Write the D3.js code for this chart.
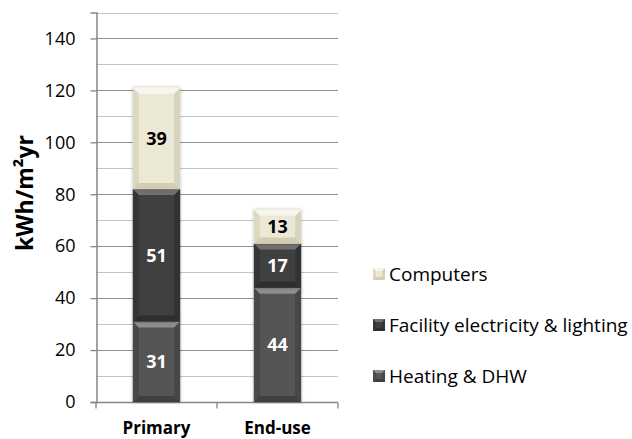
<!DOCTYPE html>
<html>
<head>
<meta charset="utf-8">
<script src="https://cdn.jsdelivr.net/npm/d3@7"></script>
<style>
  html, body { margin: 0; padding: 0; background: #fff; }
  svg { display: block; }
  text { font-family: "Open Sans", "Noto Sans", sans-serif; fill: #000; }
</style>
</head>
<body>
<svg id="chart" width="632" height="439"></svg>
<script>
// Energy use per floor area, stacked by end use
const categories = ["Primary", "End-use"];
const seriesNames = ["Heating & DHW", "Facility electricity & lighting", "Computers"];
const heating = [31, 44];
const facility = [51, 17];
const computers = [39, 13];
const yTicks = [0, 20, 40, 60, 80, 100, 120, 140];
const yGrid = [10, 20, 30, 40, 50, 60, 70, 80, 90, 100, 110, 120, 130, 140, 150];
const legendOrder = ["Computers", "Facility electricity & lighting", "Heating & DHW"];

// bevel palettes: main face, top, bottom, left, right, label colour
const palette = {
  "Heating & DHW": { face: "#545454", top: "#8e8e8e", bottom: "#404040", left: "#4a4a4a", right: "#464646", label: "#ffffff" },
  "Facility electricity & lighting": { face: "#3f3f3f", top: "#707070", bottom: "#2e2e2e", left: "#363636", right: "#333333", label: "#ffffff" },
  "Computers": { face: "#ece8d6", top: "#f7f5ec", bottom: "#d2ccb3", left: "#ddd8c2", right: "#d8d3bc", label: "#000000" }
};

const svg = d3.select("#chart");

const x = d3.scaleBand().domain(categories).range([96, 338]).paddingInner(0.61).paddingOuter(0.305);
const y = d3.scaleLinear().domain([0, 150]).range([402, 12.5]);

// stacked layout
const rows = categories.map((c, i) => ({
  category: c,
  "Heating & DHW": heating[i],
  "Facility electricity & lighting": facility[i],
  "Computers": computers[i]
}));
const stack = d3.stack().keys(seriesNames)(rows);

// gridlines
svg.append("g").selectAll("line").data(yGrid).join("line")
  .attr("x1", 96).attr("x2", 338)
  .attr("y1", d => Math.round(y(d)) + 0.5).attr("y2", d => Math.round(y(d)) + 0.5)
  .attr("stroke", d => d % 20 === 0 ? "#8f8f8f" : "#c4c4c4")
  .attr("stroke-width", 1.2);

// y axis
const yAxis = svg.append("g").attr("transform", "translate(96.5,0)")
  .call(d3.axisLeft(y).tickValues(yTicks).tickSize(6).tickPadding(15).tickFormat(d3.format("d")));
yAxis.select(".domain").attr("stroke", "#868686").attr("stroke-width", 1.5);
yAxis.selectAll(".tick line").attr("stroke", "#868686").attr("stroke-width", 1.3);
yAxis.selectAll(".tick text").attr("font-size", 18).attr("fill", "#000")
  .attr("font-family", "'Open Sans', sans-serif");

// x axis
const xAxis = svg.append("g").attr("transform", "translate(0," + (Math.round(y(0)) + 0.5) + ")");
xAxis.append("line").attr("x1", 96).attr("x2", 338).attr("stroke", "#868686").attr("stroke-width", 1.5);
const xTicks = [96, 96 + x.step(), 96 + 2 * x.step()];
xAxis.selectAll("line.t").data(xTicks).join("line").attr("class", "t")
  .attr("x1", d => d).attr("x2", d => d).attr("y1", 0).attr("y2", 6)
  .attr("stroke", "#868686").attr("stroke-width", 1.3);
xAxis.selectAll("text").data(categories).join("text")
  .attr("x", d => x(d) + x.bandwidth() / 2).attr("y", 31)
  .attr("text-anchor", "middle").attr("font-size", 17).attr("font-weight", "bold")
  .text(d => d);

// bevelled box
function bevelBox(g, x0, y0, w, h, p, b) {
  const x1 = x0 + w, y1 = y0 + h;
  b = Math.min(b, h / 2, w / 2);
  g.append("rect").attr("x", x0).attr("y", y0).attr("width", w).attr("height", h).attr("fill", p.face);
  g.append("polygon").attr("points", [[x0, y0], [x0 + b, y0 + b], [x0 + b, y1 - b], [x0, y1]].join(" ")).attr("fill", p.left);
  g.append("polygon").attr("points", [[x1, y0], [x1 - b, y0 + b], [x1 - b, y1 - b], [x1, y1]].join(" ")).attr("fill", p.right);
  g.append("polygon").attr("points", [[x0, y0], [x1, y0], [x1 - b, y0 + b], [x0 + b, y0 + b]].join(" ")).attr("fill", p.top);
  g.append("polygon").attr("points", [[x0, y1], [x1, y1], [x1 - b, y1 - b], [x0 + b, y1 - b]].join(" ")).attr("fill", p.bottom);
}

// soft shadow behind bars
const defs = svg.append("defs");
const f = defs.append("filter").attr("id", "shadow").attr("x", "-20%").attr("y", "-10%").attr("width", "140%").attr("height", "120%");
f.append("feDropShadow").attr("dx", 0).attr("dy", 0).attr("stdDeviation", 1.5).attr("flood-color", "#000").attr("flood-opacity", 0.35);

const bars = svg.append("g");
stack.forEach(layer => {
  const p = palette[layer.key];
  layer.forEach(seg => {
    const cat = seg.data.category;
    const x0 = x(cat), w = x.bandwidth();
    const yTop = y(seg[1]), yBot = y(seg[0]);
    const g = bars.append("g").attr("filter", "url(#shadow)");
    bevelBox(g, x0, yTop, w, yBot - yTop, p, 6);
  });
});

// value labels
stack.forEach(layer => {
  const p = palette[layer.key];
  svg.append("g").selectAll("text").data(layer).join("text")
    .attr("x", d => x(d.data.category) + x.bandwidth() / 2)
    .attr("y", d => (y(d[0]) + y(d[1])) / 2)
    .attr("dy", "0.36em")
    .attr("text-anchor", "middle").attr("font-size", 18).attr("font-weight", "bold")
    .style("fill", p.label)
    .text(d => d[1] - d[0]);
});

// y-axis title
svg.append("text")
  .attr("transform", "translate(33,193) rotate(-90)")
  .attr("text-anchor", "middle").attr("font-size", 23).attr("font-weight", "bold")
  .text("kWh/m²yr");

// legend
const legend = svg.append("g");
legendOrder.forEach((name, i) => {
  const cy = 274 + i * 51;
  bevelBox(legend.append("g"), 373, cy - 6, 12, 12, palette[name], 3);
  legend.append("text").attr("x", 389).attr("y", cy).attr("dy", "0.35em")
    .attr("font-size", 19).text(name);
});
</script>
</body>
</html>
